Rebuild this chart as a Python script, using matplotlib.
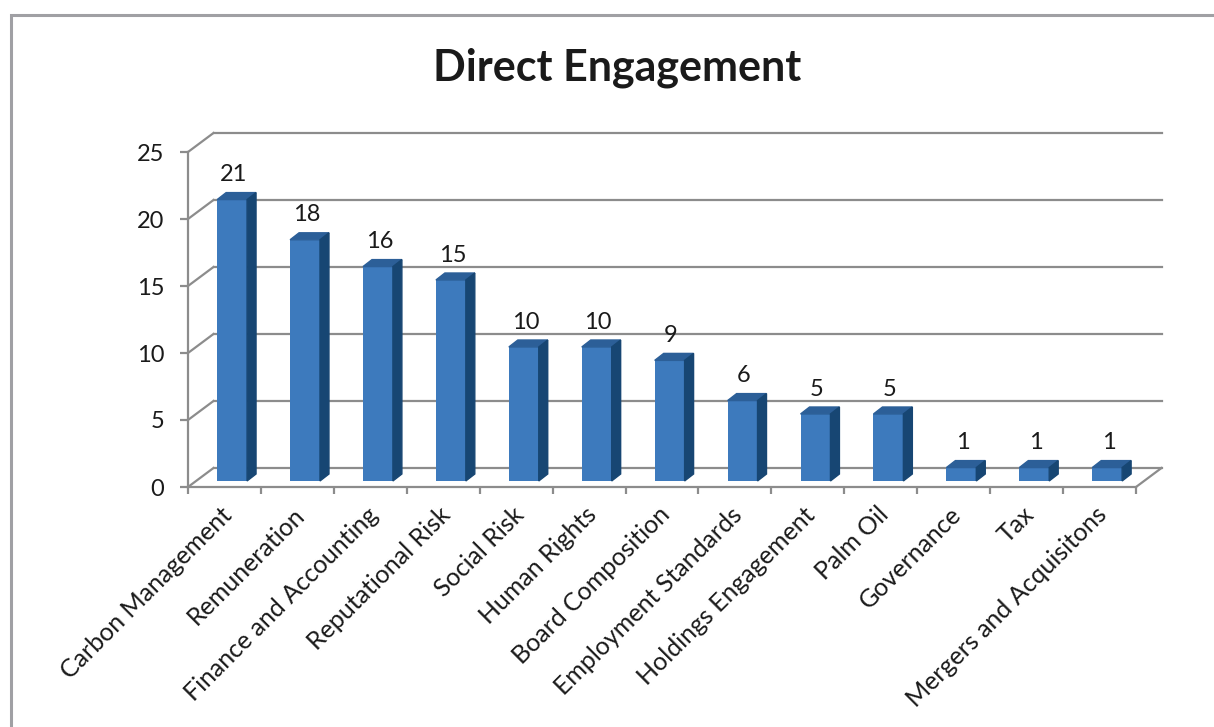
import matplotlib
matplotlib.use("Agg")
import matplotlib.pyplot as plt
from matplotlib.patches import Polygon, Rectangle
import numpy as np

plt.rcParams['font.family'] = ['Lato', 'DejaVu Sans']

categories = ["Carbon Management", "Remuneration", "Finance and Accounting",
              "Reputational Risk", "Social Risk", "Human Rights",
              "Board Composition", "Employment Standards", "Holdings Engagement",
              "Palm Oil", "Governance", "Tax", "Mergers and Acquisitons"]
counts = [21, 18, 16, 15, 10, 10, 9, 6, 5, 5, 1, 1, 1]
y_ticks = [0, 5, 10, 15, 20, 25]

GRID = "#8c8c8c"
FRONT = "#3d7abd"
TOP = "#2c5f98"
SIDE = "#174673"
INK = "#1a1a1a"

# fake 3D: depth of the whole plot box and of each column (data units)
DX, DY = 0.35, 1.42
BX, BY = 0.105, 0.45      # column front face sits a bit into the box
BW = 0.41
CDX, CDY = 0.123, 0.52

W, H = 1214, 727
fig = plt.figure(figsize=(W / 100, H / 100), dpi=100)
ax = fig.add_axes([188 / W, 1 - 487 / H, (1136 - 188) / W, (487 - 152) / H])
ax.set_xlim(0, len(categories))
ax.set_ylim(0, 25)

for s in ["top", "right"]:
    ax.spines[s].set_visible(False)
for s in ["left", "bottom"]:
    ax.spines[s].set_color(GRID)
    ax.spines[s].set_linewidth(1.6)

ax.set_yticks(y_ticks)
ax.tick_params(axis="y", length=6, width=1.6, color=GRID, pad=11,
               labelsize=17, labelcolor=INK)
ax.set_xticks(np.arange(len(categories) + 1))
ax.set_xticklabels([])
ax.tick_params(axis="x", length=5, width=1.6, color=GRID)

n = len(categories)
# back wall gridlines and side wall diagonals
for t in y_ticks:
    ax.plot([DX, n + DX], [t + DY, t + DY], color=GRID, lw=1.6, clip_on=False, zorder=1)
    ax.plot([0, DX], [t, t + DY], color=GRID, lw=1.6, clip_on=False, zorder=1)
ax.plot([n, n + DX], [0, DY], color=GRID, lw=1.6, clip_on=False, zorder=1)

x = np.arange(n) + 0.5 + BX
ax.bar(x, counts, width=BW, bottom=BY, color=FRONT, zorder=3, clip_on=False)
for xi, v in zip(x, counts):
    l, r, top = xi - BW / 2, xi + BW / 2, BY + v
    ax.add_patch(Polygon([(l, top), (r, top), (r + CDX, top + CDY), (l + CDX, top + CDY)],
                         closed=True, color=TOP, zorder=3, clip_on=False))
    ax.add_patch(Polygon([(r, BY), (r + CDX, BY + CDY), (r + CDX, top + CDY), (r, top)],
                         closed=True, color=SIDE, zorder=3, clip_on=False))
    ax.text(xi + 0.02, top + CDY + 0.55, str(v), ha="center", va="bottom",
            fontsize=17, color=INK, zorder=4)

for i, name in enumerate(categories):
    ax.text(i + 0.55, -1.8, name, rotation=45, rotation_mode="anchor",
            ha="right", va="center", fontsize=18, color=INK)

fig.text(617 / W, 1 - 80 / H, "Direct Engagement", ha="center", va="baseline",
         fontsize=31, fontweight="bold", color=INK)

fig.patches.append(Rectangle((11 / W, -0.1), 1.2, 1.1 - 15 / H, transform=fig.transFigure,
                             fill=False, edgecolor="#a0a0a4", lw=2.2))

fig.savefig("out.png", dpi=100, facecolor="white")
